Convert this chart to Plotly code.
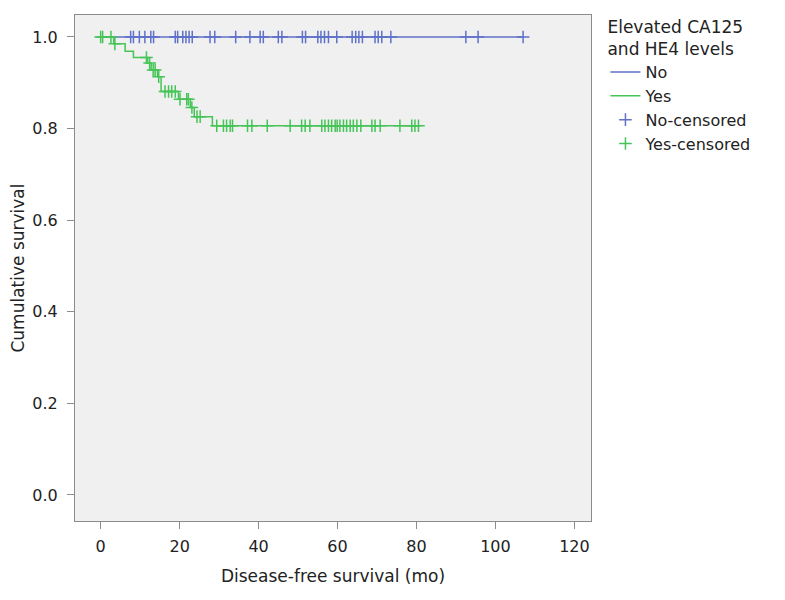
import numpy as np
import plotly.graph_objects as go

# Kaplan-Meier step data (months, cumulative survival)
no_event_times = [0.0]
no_survival = [1.0]
no_censored = [7.6, 8.3, 9.8, 11.2, 12.7, 13.4, 18.9, 19.5, 20.8, 21.6, 22.4, 23.2,
               27.7, 28.9, 34.2, 37.8, 40.4, 41.2, 45.0, 45.9, 51.1, 51.9, 55.0, 55.8,
               56.7, 57.7, 59.8, 63.7, 64.6, 65.4, 66.3, 69.5, 70.3, 71.2, 73.5, 92.5,
               95.6, 107.0]

yes_event_times = [0.0, 3.3, 6.2, 8.3, 11.9, 12.8, 14.4, 15.3, 19.7, 22.7, 23.7, 28.3]
yes_survival = [1.0, 0.985, 0.969, 0.955, 0.943, 0.928, 0.913, 0.881, 0.864, 0.846, 0.826, 0.806]
yes_censored = [0.0, 0.5, 2.6, 3.6, 11.6, 12.4, 13.3, 13.8, 14.7, 16.3, 17.2, 18.0, 18.9,
                20.1, 21.8, 22.2, 23.1, 24.4, 25.2, 29.4, 31.1, 31.9, 32.8, 33.4, 37.2,
                38.3, 42.2, 48.0, 50.9, 51.8, 53.0, 56.0, 56.8, 57.7, 58.5, 59.4, 59.9,
                60.6, 61.5, 62.3, 63.2, 64.0, 64.9, 65.9, 68.7, 69.5, 70.8, 75.8, 78.8,
                79.6, 80.5]

BLUE = '#5f72c8'
GREEN = '#46c457'


def survival_at(times, surv, t):
    idx = np.searchsorted(times, t, side='right') - 1
    return [surv[i] for i in idx]


def step_xy(times, surv, end):
    return list(times) + [end], list(surv) + [surv[-1]]


fig = go.Figure()

x, y = step_xy(no_event_times, no_survival, max(no_censored))
fig.add_trace(go.Scatter(x=x, y=y, mode='lines', line_shape='hv', name='No',
                         line=dict(color=BLUE, width=1.5)))
x, y = step_xy(yes_event_times, yes_survival, max(yes_censored))
fig.add_trace(go.Scatter(x=x, y=y, mode='lines', line_shape='hv', name='Yes',
                         line=dict(color=GREEN, width=1.5)))

fig.add_trace(go.Scatter(x=no_censored, y=survival_at(no_event_times, no_survival, no_censored),
                         mode='markers', name='No-censored',
                         marker=dict(symbol='cross-thin', size=9, color=BLUE,
                                     line=dict(color=BLUE, width=1.5))))
fig.add_trace(go.Scatter(x=yes_censored, y=survival_at(yes_event_times, yes_survival, yes_censored),
                         mode='markers', name='Yes-censored',
                         marker=dict(symbol='cross-thin', size=9, color=GREEN,
                                     line=dict(color=GREEN, width=1.5))))

axis_style = dict(showline=True, linecolor='#8c8c8c', linewidth=1, mirror=True,
                  ticks='outside', ticklen=7, tickcolor='#8c8c8c', showgrid=False,
                  zeroline=False, automargin=False, tickfont=dict(size=16, color='#222'))

# the page body adds an 8px offset, so margins are set 8px smaller on top/left
fig.update_layout(
    width=785, height=600,
    margin=dict(l=67, r=202, t=7, b=87, autoexpand=False),
    paper_bgcolor='white', plot_bgcolor='#f0f0f0',
    font=dict(family='DejaVu Sans', size=16, color='#222'),
    xaxis=dict(range=[-6.5, 124.2], tickvals=[0, 20, 40, 60, 80, 100, 120],
               ticklabelstandoff=4,
               title=dict(text='Disease-free survival (mo)', standoff=14,
                          font=dict(size=17)), **axis_style),
    yaxis=dict(range=[-0.057, 1.048], tickvals=[0, 0.2, 0.4, 0.6, 0.8, 1.0], tickformat='.1f',
               ticklabelstandoff=6,
               title=dict(text='Cumulative survival', standoff=10,
                          font=dict(size=17)), **axis_style),
    legend=dict(title=dict(text='Elevated CA125<br>and HE4 levels', font=dict(size=17)),
                x=1.028, y=1.008, xanchor='left', yanchor='top',
                font=dict(size=16), itemwidth=30, tracegroupgap=0,
                bgcolor='rgba(0,0,0,0)'),
)

fig.write_html("out.html")
